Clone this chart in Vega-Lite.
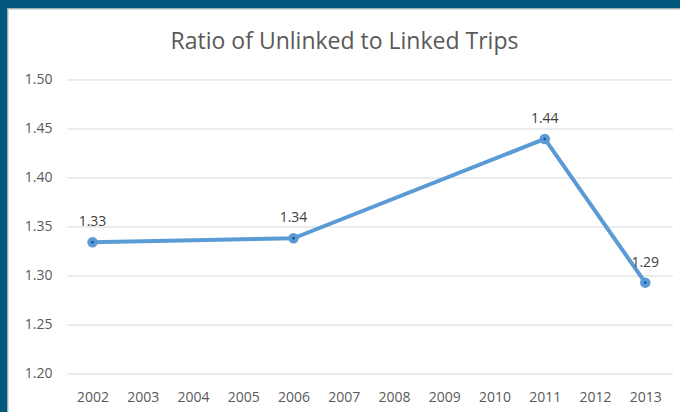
{
  "$schema": "https://vega.github.io/schema/vega-lite/v6.json",
  "width": 673,
  "height": 404,
  "autosize": {"type": "none"},
  "padding": {"left": 8, "top": 9, "right": 0, "bottom": 0},
  "background": "#03587E",
  "config": {
    "view": {"fill": "#FFFFFF", "stroke": "#CFCFCF", "strokeWidth": 1.5},
    "font": "Open Sans"
  },
  "title": {
    "text": "Ratio of Unlinked to Linked Trips",
    "anchor": "middle",
    "frame": "group",
    "offset": -68,
    "baseline": "bottom",
    "fontSize": 23,
    "fontWeight": "normal",
    "font": "Open Sans",
    "color": "#595959"
  },
  "datasets": {
    "ratio": [
      {"year": 2002, "ratio": 1.3344},
      {"year": 2006, "ratio": 1.3385},
      {"year": 2011, "ratio": 1.4398},
      {"year": 2013, "ratio": 1.2932}
    ],
    "grid": [
      {"tick": 1.2}, {"tick": 1.25}, {"tick": 1.3}, {"tick": 1.35},
      {"tick": 1.4}, {"tick": 1.45}, {"tick": 1.5}
    ]
  },
  "layer": [
    {
      "data": {"name": "grid"},
      "mark": {"type": "rule", "color": "#D9D9D9", "strokeWidth": 1},
      "encoding": {
        "y": {"field": "tick", "type": "quantitative"},
        "x": {"datum": 2001.5, "type": "quantitative"},
        "x2": {"datum": 2013.55}
      }
    },
    {
      "data": {"name": "ratio"},
      "mark": {"type": "line", "color": "#5B9BD5", "strokeWidth": 4, "strokeJoin": "round", "strokeCap": "round"},
      "encoding": {
        "x": {
          "field": "year",
          "type": "quantitative",
          "scale": {"domain": [2000.318, 2013.711], "nice": false, "zero": false},
          "axis": {
            "values": [2002, 2003, 2004, 2005, 2006, 2007, 2008, 2009, 2010, 2011, 2012, 2013],
            "format": "d",
            "title": null,
            "grid": false,
            "domain": false,
            "ticks": false,
            "tickSize": 0,
            "offset": -16,
            "labelBaseline": "middle",
            "labelPadding": 0,
            "labelFontSize": 14,
            "labelColor": "#595959",
            "labelFlush": false,
            "labelOverlap": false,
            "labelBound": false
          }
        },
        "y": {
          "field": "ratio",
          "type": "quantitative",
          "scale": {"domain": [1.1602, 1.5724], "nice": false, "zero": false},
          "axis": {
            "values": [1.2, 1.25, 1.3, 1.35, 1.4, 1.45, 1.5],
            "format": ".2f",
            "title": null,
            "grid": false,
            "domain": false,
            "ticks": false,
            "tickSize": 0,
            "offset": -50,
            "labelPadding": 6,
            "labelFontSize": 14,
            "labelColor": "#595959",
            "labelFlush": false,
            "labelOverlap": false,
            "labelBound": false
          }
        }
      }
    },
    {
      "data": {"name": "ratio"},
      "mark": {"type": "point", "filled": true, "shape": "circle", "size": 110, "color": "#5B9BD5", "opacity": 1},
      "encoding": {
        "x": {"field": "year", "type": "quantitative"},
        "y": {"field": "ratio", "type": "quantitative"}
      }
    },
    {
      "data": {"name": "ratio"},
      "mark": {"type": "point", "filled": true, "shape": "circle", "size": 8, "color": "#1F5C99", "opacity": 1},
      "encoding": {
        "x": {"field": "year", "type": "quantitative"},
        "y": {"field": "ratio", "type": "quantitative"}
      }
    },
    {
      "data": {"name": "ratio"},
      "mark": {"type": "text", "baseline": "alphabetic", "align": "center", "dy": -16, "fontSize": 14, "font": "Open Sans", "color": "#404040"},
      "encoding": {
        "x": {"field": "year", "type": "quantitative"},
        "y": {"field": "ratio", "type": "quantitative"},
        "text": {"field": "ratio", "type": "quantitative", "format": ".2f"}
      }
    }
  ]
}
